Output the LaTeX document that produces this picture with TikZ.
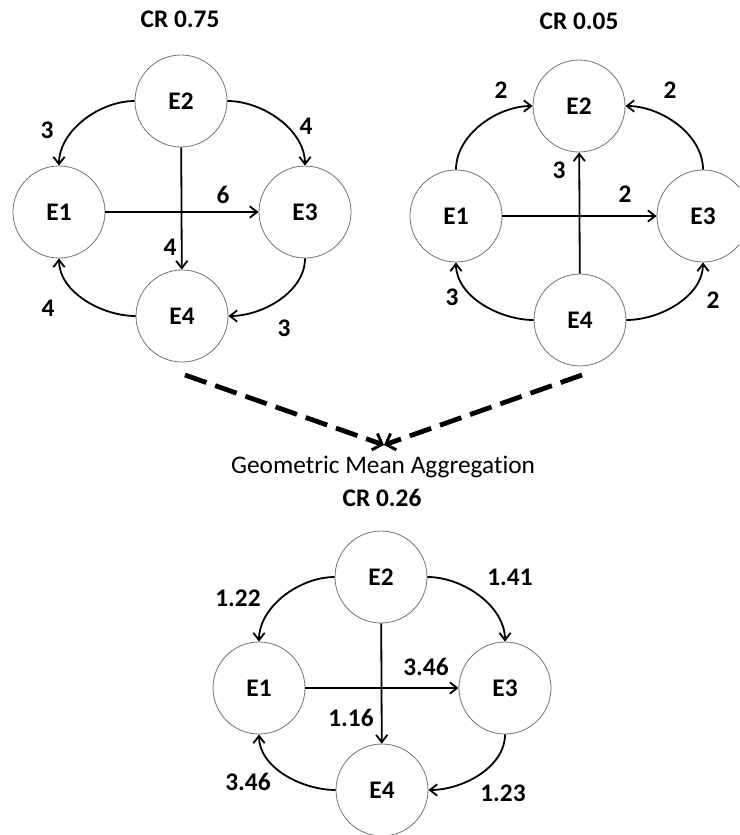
\documentclass[tikz,border=0pt]{standalone}
\usepackage{fontspec}
\setmainfont{Carlito}[Ligatures=CommonOff]
\usetikzlibrary{arrows.meta}
\tikzset{expert/.style={circle, draw=black!55, line width=0.6pt, fill=white,
  minimum size=69pt, inner sep=0pt, font=\bfseries\fontsize{19}{22}\selectfont},
  link/.style={-{Straight Barb[length=5.5pt, width=8.5pt]}, line width=1.35pt},
  wt/.style={font=\bfseries\fontsize{19}{22}\selectfont},
  merge/.style={-{Straight Barb[length=6pt, width=13pt, line width=2.2pt]},
  line width=3.6pt, dash pattern=on 17pt off 7pt}}

\begin{document}
\begin{tikzpicture}[x=0.75pt, y=0.75pt]
\useasboundingbox (0,0) rectangle (739,-835);
\clip (0,0) rectangle (739,-835);
% first expert, CR 0.75
\node[wt] (crA) at (180,-19) {CR 0.75};
\node[expert] (A2) at (181,-101) {E2};
\node[expert] (A1) at (59,-212) {E1};
\node[expert] (A3) at (305,-212) {E3};
\node[expert] (A4) at (182,-316) {E4};
\draw[link] (A2.west) to[out=180, in=90, looseness=0.9] (A1.north);
\draw[link] (A2.east) to[out=0, in=90, looseness=0.9] (A3.north);
\draw[link] (A1) -- (A3);
\draw[link] (A2) -- (A4);
\draw[link] (A3.south) to[out=-90, in=0, looseness=0.9] (A4.east);
\draw[link] (A4.west) to[out=180, in=-90, looseness=0.9] (A1.south);
\node[wt] (wA21) at (47,-130) {3};
\node[wt] (wA23) at (306,-126) {4};
\node[wt] (wA13) at (223,-195) {6};
\node[wt] (wA24) at (170,-247) {4};
\node[wt] (wA41) at (48,-308) {4};
\node[wt] (wA34) at (284,-328) {3};
% second expert, CR 0.05
\node[wt] (crB) at (579,-21) {CR 0.05};
\node[expert] (B2) at (579,-106) {E2};
\node[expert] (B1) at (456,-216) {E1};
\node[expert] (B3) at (703,-216) {E3};
\node[expert] (B4) at (580,-320) {E4};
\draw[link] (B1.north) to[out=90, in=180, looseness=0.9] (B2.west);
\draw[link] (B3.north) to[out=90, in=0, looseness=0.9] (B2.east);
\draw[link] (B1) -- (B3);
\draw[link] (B4) -- (B2);
\draw[link] (B4.west) to[out=180, in=-90, looseness=0.9] (B1.south);
\draw[link] (B4.east) to[out=0, in=-90, looseness=0.9] (B3.south);
\node[wt] (wB12) at (501,-90) {2};
\node[wt] (wB32) at (670,-90) {2};
\node[wt] (wB42) at (559,-170) {3};
\node[wt] (wB13) at (625,-194) {2};
\node[wt] (wB41) at (452,-297) {3};
\node[wt] (wB43) at (713,-300) {2};
% both feed the aggregate
\coordinate (fromA) at (185,-375);
\coordinate (fromB) at (582,-375);
\coordinate (agg) at (384,-445);
\draw[merge] (fromA) -- (agg);
\draw[merge] (fromB) -- (agg);
\node[font=\fontsize{19}{22}\selectfont] (gma) at (383,-467) {Geometric Mean Aggregation};
% aggregated judgements, CR 0.26
\node[wt] (crG) at (382,-498) {CR 0.26};
\node[expert] (G2) at (381,-577) {E2};
\node[expert] (G1) at (259,-688) {E1};
\node[expert] (G3) at (505,-688) {E3};
\node[expert] (G4) at (382,-790) {E4};
\draw[link] (G2.west) to[out=180, in=90, looseness=0.9] (G1.north);
\draw[link] (G2.east) to[out=0, in=90, looseness=0.9] (G3.north);
\draw[link] (G1) -- (G3);
\draw[link] (G2) -- (G4);
\draw[link] (G3.south) to[out=-90, in=0, looseness=0.9] (G4.east);
\draw[link] (G4.west) to[out=180, in=-90, looseness=0.9] (G1.south);
\node[wt] (wG21) at (238,-598) {1.22};
\node[wt] (wG23) at (510,-577) {1.41};
\node[wt] (wG13) at (426,-667) {3.46};
\node[wt] (wG24) at (351,-718) {1.16};
\node[wt] (wG41) at (248,-782) {3.46};
\node[wt] (wG34) at (503,-793) {1.23};
\end{tikzpicture}
\end{document}
